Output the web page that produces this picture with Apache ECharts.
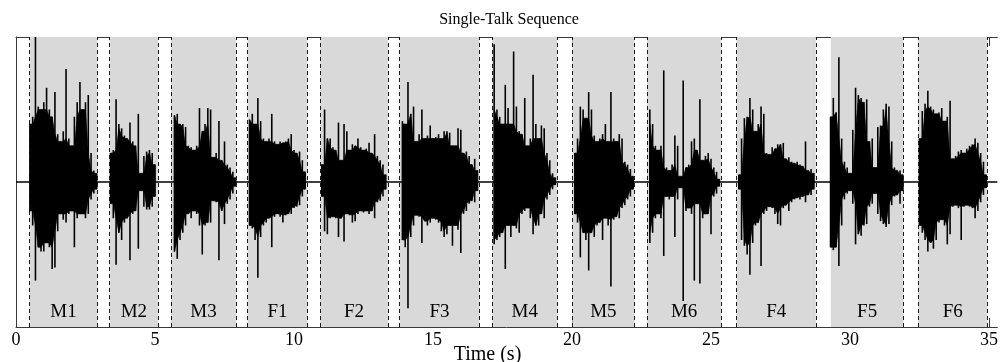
<!DOCTYPE html>
<html><head><meta charset="utf-8">
<script src="https://cdn.jsdelivr.net/npm/echarts@6/dist/echarts.min.js"></script>
<style>html,body{margin:0;padding:0;background:#fff}#c{width:1001px;height:362px}</style>
</head><body><div id="c"></div>
<script>
// ---------- data ----------
const xTicks = [0, 5, 10, 15, 20, 25, 30, 35];
const segNames = ['M1','M2','M3','F1','F2','F3','M4','M5','M6','F4','F5','F6'];
const segStart = [0.49, 3.37, 5.57, 8.33, 10.94, 13.80, 17.13, 20.01, 22.70, 25.92, 29.31, 32.45];
const segEnd   = [2.93, 5.11, 7.92, 10.48, 13.38, 16.67, 19.47, 22.25, 25.37, 28.77, 31.92, 34.94];
const segDashedStart = [true, true, true, true, true, true, true, true, true, true, false, true];
// first envelope sample time of each segment (samples every 0.1 s)
const waveStart = [0.5, 3.4, 5.7, 8.4, 11.0, 13.9, 17.2, 20.1, 22.8, 26.0, 29.3, 32.5];

const topM1 = [0.40,0.45,1.0,0.52,0.50,0.55,0.65,0.50,0.45,0.62,0.33,0.28,0.35,0.78,0.30,0.25,0.45,0.55,0.69,0.50,0.55,0.60,0.20,0.08,0.06];
const botM1 = [0.20,0.30,0.68,0.45,0.48,0.48,0.42,0.45,0.60,0.59,0.34,0.22,0.26,0.28,0.22,0.20,0.45,0.25,0.22,0.22,0.25,0.22,0.12,0.08,0.05];
const topM2 = [0.20,0.22,0.57,0.40,0.37,0.32,0.30,0.41,0.28,0.25,0.47,0.06,0.18,0.21,0.22,0.20,0.12];
const botM2 = [0.15,0.25,0.57,0.35,0.40,0.28,0.25,0.54,0.22,0.20,0.46,0.06,0.17,0.19,0.19,0.17,0.10];
const topM3 = [0.46,0.47,0.40,0.40,0.38,0.25,0.24,0.22,0.25,0.51,0.35,0.40,0.51,0.50,0.17,0.20,0.42,0.15,0.28,0.12,0.10,0.07,0.03];
const botM3 = [0.48,0.53,0.40,0.35,0.30,0.22,0.25,0.20,0.22,0.30,0.50,0.30,0.28,0.28,0.13,0.14,0.54,0.20,0.29,0.15,0.12,0.08,0.03];
const topF1 = [0.43,0.47,0.40,0.58,0.42,0.30,0.28,0.30,0.47,0.28,0.26,0.28,0.27,0.28,0.30,0.33,0.22,0.20,0.21,0.15,0.07];
const botF1 = [0.30,0.32,0.40,0.66,0.38,0.30,0.28,0.25,0.45,0.24,0.22,0.24,0.28,0.23,0.22,0.22,0.18,0.17,0.16,0.10,0.05];
const topF2 = [0.12,0.50,0.30,0.30,0.24,0.22,0.41,0.15,0.40,0.35,0.22,0.26,0.25,0.30,0.24,0.22,0.23,0.27,0.20,0.33,0.18,0.15,0.12,0.05];
const botF2 = [0.10,0.34,0.36,0.25,0.24,0.25,0.38,0.25,0.41,0.22,0.23,0.28,0.27,0.22,0.20,0.21,0.20,0.22,0.20,0.25,0.14,0.13,0.10,0.05];
const topF3 = [0.42,0.40,0.69,0.47,0.52,0.28,0.33,0.50,0.30,0.32,0.39,0.30,0.31,0.33,0.30,0.35,0.35,0.34,0.25,0.25,0.37,0.36,0.20,0.21,0.18,0.12,0.16,0.08];
const botF3 = [0.40,0.45,0.87,0.38,0.30,0.23,0.24,0.42,0.27,0.30,0.28,0.25,0.26,0.28,0.34,0.38,0.36,0.30,0.44,0.30,0.33,0.49,0.22,0.20,0.15,0.13,0.14,0.06];
const topM4 = [0.95,0.50,0.45,0.40,0.67,0.51,0.40,0.90,0.52,0.35,0.33,0.58,0.25,0.30,0.74,0.40,0.30,0.39,0.37,0.20,0.15,0.06,0.03];
const botM4 = [0.43,0.40,0.38,0.35,0.60,0.30,0.38,0.30,0.32,0.35,0.22,0.20,0.18,0.25,0.36,0.30,0.30,0.22,0.25,0.12,0.09,0.05,0.02];
const topM5 = [0.20,0.30,0.52,0.50,0.44,0.62,0.50,0.32,0.28,0.30,0.33,0.40,0.28,0.62,0.30,0.28,0.33,0.30,0.14,0.12,0.09,0.04];
const botM5 = [0.22,0.28,0.52,0.35,0.40,0.61,0.35,0.38,0.30,0.28,0.40,0.25,0.30,0.72,0.26,0.24,0.25,0.18,0.16,0.12,0.10,0.05];
const topM6 = [0.50,0.40,0.25,0.22,0.25,0.77,0.10,0.08,0.12,0.32,0.25,0.04,0.70,0.10,0.12,0.28,0.30,0.22,0.57,0.15,0.18,0.20,0.16,0.10,0.07,0.02];
const botM6 = [0.42,0.35,0.25,0.22,0.25,0.51,0.10,0.12,0.10,0.38,0.12,0.04,0.82,0.20,0.18,0.22,0.68,0.15,0.70,0.25,0.22,0.22,0.36,0.10,0.08,0.03];
const topF4 = [0.05,0.30,0.44,0.45,0.58,0.50,0.35,0.40,0.52,0.47,0.20,0.19,0.24,0.23,0.26,0.26,0.27,0.16,0.17,0.14,0.13,0.14,0.12,0.11,0.28,0.08,0.09,0.06];
const botF4 = [0.05,0.40,0.44,0.50,0.64,0.42,0.30,0.28,0.58,0.22,0.20,0.17,0.18,0.22,0.29,0.30,0.18,0.16,0.20,0.14,0.12,0.11,0.12,0.10,0.14,0.09,0.09,0.05];
const topF5 = [0.45,0.58,0.48,0.86,0.30,0.14,0.10,0.06,0.36,0.65,0.60,0.58,0.55,0.57,0.28,0.30,0.10,0.38,0.39,0.50,0.54,0.52,0.28,0.10,0.08,0.08,0.05];
const botF5 = [0.45,0.47,0.45,0.58,0.30,0.12,0.08,0.06,0.15,0.43,0.36,0.37,0.30,0.29,0.17,0.15,0.08,0.22,0.27,0.29,0.31,0.29,0.16,0.10,0.09,0.15,0.06];
const topF6 = [0.30,0.49,0.54,0.63,0.52,0.50,0.47,0.48,0.51,0.42,0.45,0.56,0.16,0.18,0.21,0.22,0.20,0.23,0.25,0.26,0.30,0.27,0.20,0.14,0.05];
const botF6 = [0.30,0.35,0.40,0.48,0.42,0.46,0.40,0.28,0.26,0.30,0.43,0.36,0.17,0.16,0.18,0.40,0.17,0.16,0.17,0.18,0.25,0.20,0.14,0.09,0.04];

const segTops = [topM1, topM2, topM3, topF1, topF2, topF3, topM4, topM5, topM6, topF4, topF5, topF6];
const segBots = [botM1, botM2, botM3, botF1, botF2, botF3, botM4, botM5, botM6, botF4, botF5, botF6];

// ---------- build ----------
const bounds = [];
segStart.forEach((s, k) => { if (segDashedStart[k]) bounds.push(s); bounds.push(segEnd[k]); });

// dense core = smallest of the neighbouring envelope samples; needles reach the sample value
function coreOf(a, i) {
  let m = a[i];
  if (i > 0) m = Math.min(m, a[i - 1]);
  if (i < a.length - 1) m = Math.min(m, a[i + 1]);
  return m;
}
function renderWave(params, api) {
  const k = api.value(2);
  const tops = segTops[k], bots = segBots[k];
  const t0 = waveStart[k];
  const up = [], dn = [], kids = [];
  for (let i = 0; i < tops.length; i++) {
    const t = t0 + 0.1 * i;
    up.push(api.coord([t, coreOf(tops, i)]));
    dn.push(api.coord([t, -coreOf(bots, i)]));
    const a = api.coord([t, tops[i]]), b = api.coord([t, -bots[i]]);
    kids.push({type: 'line', shape: {x1: a[0], y1: a[1], x2: b[0], y2: b[1]},
      style: {stroke: '#000', lineWidth: 1.6}});
  }
  const pts = up.concat(dn.reverse());
  kids.unshift({type: 'polygon', shape: {points: pts}, style: {fill: '#000', stroke: '#000', lineWidth: 0.6}});
  return {type: 'group', children: kids};
}

const serif = 'Liberation Serif';
const axisCol = '#3a3a3a';
const chart = echarts.init(document.getElementById('c'), null, {renderer: 'canvas'});
chart.setOption({
  animation: false,
  backgroundColor: '#fff',
  grid: {left: 16, right: 0, top: 37, bottom: 35},
  xAxis: [
    {type: 'value', min: 0, max: 35.3, position: 'bottom',
     axisLine: {show: true, onZero: false, lineStyle: {color: axisCol, width: 1}},
     axisTick: {show: true, inside: true, length: 9, customValues: xTicks, lineStyle: {color: axisCol}},
     axisLabel: {show: true, customValues: xTicks, margin: 4, fontFamily: serif, fontSize: 18, color: '#000'},
     splitLine: {show: false}},
    {type: 'value', min: 0, max: 35.3, position: 'top',
     axisLine: {show: true, onZero: false, lineStyle: {color: axisCol, width: 1}},
     axisTick: {show: true, inside: true, length: 9, customValues: xTicks, lineStyle: {color: axisCol}},
     axisLabel: {show: false}, splitLine: {show: false}}
  ],
  yAxis: {type: 'value', min: -1, max: 1,
    axisLine: {show: true, onZero: false, lineStyle: {color: axisCol, width: 1}},
    axisTick: {show: false}, axisLabel: {show: false}, splitLine: {show: false}},
  graphic: [
    {type: 'text', x: 509, y: 20, style: {text: 'Single-Talk Sequence', fill: '#000',
      font: '16px "Liberation Serif"', textAlign: 'center', textVerticalAlign: 'middle', align: 'center', verticalAlign: 'middle'}},
    {type: 'text', x: 487.5, y: 355, style: {text: 'Time (s)', fill: '#000',
      font: '20px "Liberation Serif"', textAlign: 'center', textVerticalAlign: 'middle', align: 'center', verticalAlign: 'middle'}}
  ],
  series: [
    {type: 'line', data: [], z: 1, silent: true,
     markArea: {silent: true, itemStyle: {color: '#d9d9d9'},
       label: {show: true, position: 'insideBottom', distance: 5, fontFamily: serif, fontSize: 19, color: '#000'},
       data: segNames.map((n, k) => [{name: n, xAxis: segStart[k]}, {xAxis: segEnd[k]}])},
     markLine: {silent: true, symbol: ['none', 'none'], label: {show: false},
       lineStyle: {color: '#1a1a1a', width: 1, type: [4, 3]},
       data: bounds.map(x => ({xAxis: x}))}},
    {type: 'line', data: [], z: 2, silent: true,
     markLine: {silent: true, symbol: ['none', 'none'], label: {show: false},
       lineStyle: {color: '#000', width: 1.5, type: 'solid'}, data: [{yAxis: 0}]}},
    {type: 'custom', coordinateSystem: 'cartesian2d', z: 3, silent: true, clip: true,
     data: segNames.map((n, k) => [segStart[k], 0, k]),
     encode: {x: 0, y: 1},
     renderItem: renderWave}
  ]
});
</script></body></html>
